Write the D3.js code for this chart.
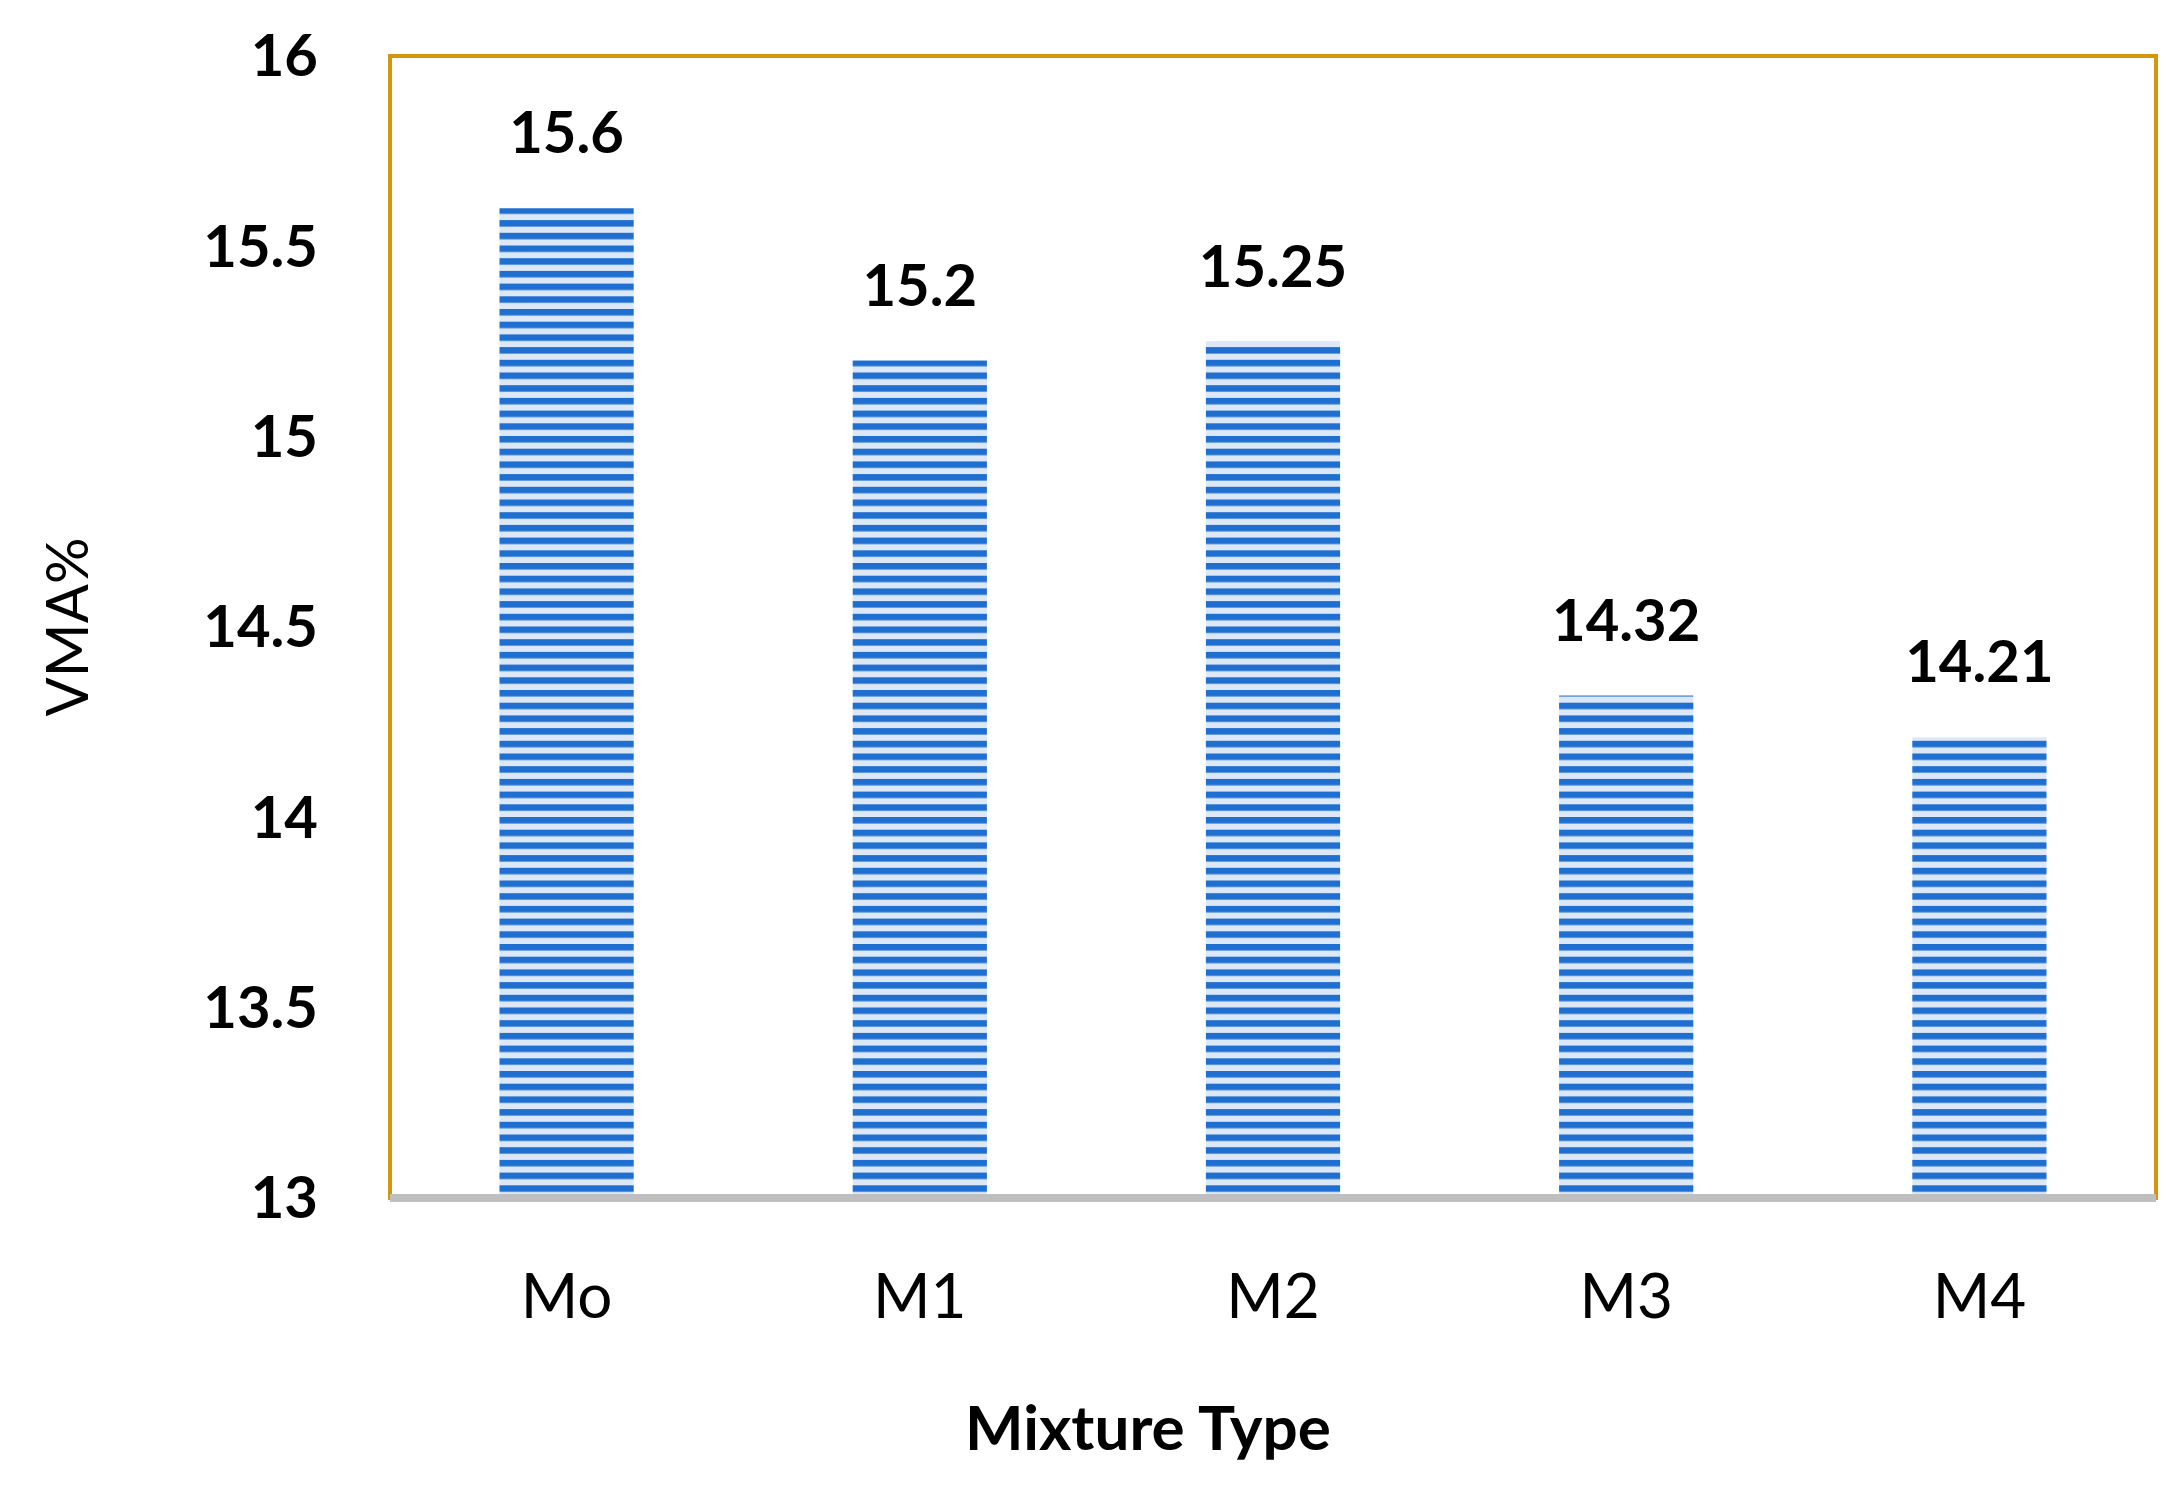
<!DOCTYPE html><html><head><meta charset="utf-8">
<script src="https://cdn.jsdelivr.net/npm/d3@7"></script>
<style>body{margin:0;background:#fff}</style></head><body>
<svg id="c" width="2173" height="1487"></svg>
<script>
const categories=["Mo","M1","M2","M3","M4"];
const values=[15.6,15.2,15.25,14.32,14.21];
const labels=["15.6","15.2","15.25","14.32","14.21"];
const yTicks=[13,13.5,14,14.5,15,15.5,16];
const svg=d3.select("#c");
const L=390,R=2156,T=56,B=1198;
const x=d3.scaleBand().domain(categories).range([L,R]).paddingInner(0.62).paddingOuter(0.31);
const y=d3.scaleLinear().domain([13,16]).range([B,T]);
const defs=svg.append("defs");
const g=defs.append("linearGradient").attr("id","hg").attr("x1",0).attr("x2",1);
g.append("stop").attr("offset","0").attr("stop-color","#c9d9f2");
g.append("stop").attr("offset","0.15").attr("stop-color","#e6eefa");
g.append("stop").attr("offset","0.85").attr("stop-color","#e6eefa");
g.append("stop").attr("offset","1").attr("stop-color","#c9d9f2");
const p=defs.append("pattern").attr("id","st").attr("patternUnits","userSpaceOnUse").attr("width",4000).attr("height",12.7).attr("y",B);
p.append("rect").attr("width",4000).attr("height",12.7).attr("fill","#dce7f7");
p.append("rect").attr("width",4000).attr("height",6.5).attr("fill","#1f6fd0");
svg.append("rect").attr("x",L).attr("y",T).attr("width",R-L).attr("height",B-T).attr("fill","none").attr("stroke","#d4960c").attr("stroke-width",4);
svg.selectAll(".bar").data(values).join("rect")
 .attr("x",(d,i)=>x(categories[i])).attr("width",x.bandwidth())
 .attr("y",d=>y(d)).attr("height",d=>B-y(d)).attr("fill","url(#st)");
svg.append("line").attr("x1",L).attr("x2",R).attr("y1",B).attr("y2",B).attr("stroke","#bfbfbf").attr("stroke-width",8);
svg.selectAll(".vl").data(values).join("text")
 .attr("x",(d,i)=>x(categories[i])+x.bandwidth()/2).attr("y",d=>y(d)-55)
 .attr("text-anchor","middle").attr("font-family","Lato, 'Open Sans', sans-serif").attr("font-weight","bold").attr("font-size",58)
 .text((d,i)=>labels[i]);
svg.selectAll(".yt").data(yTicks).join("text")
 .attr("x",L-72).attr("y",d=>y(d)).attr("dy","0.35em").attr("text-anchor","end")
 .attr("font-family","Lato, 'Open Sans', sans-serif").attr("font-weight","bold").attr("font-size",58).text(d=>d);
svg.selectAll(".xt").data(categories).join("text")
 .attr("x",d=>x(d)+x.bandwidth()/2).attr("y",1318).attr("text-anchor","middle")
 .attr("font-family","Lato, 'Open Sans', sans-serif").attr("font-size",62).text(d=>d);
svg.append("text").attr("x",1148).attr("y",1450).attr("text-anchor","middle")
 .attr("font-family","Lato, 'Open Sans', sans-serif").attr("font-weight","bold").attr("font-size",62).text("Mixture Type");
svg.append("text").attr("transform","translate(88,627) rotate(-90)").attr("text-anchor","middle")
 .attr("font-family","Lato, 'Open Sans', sans-serif").attr("font-size",58).text("VMA%");
</script></body></html>
